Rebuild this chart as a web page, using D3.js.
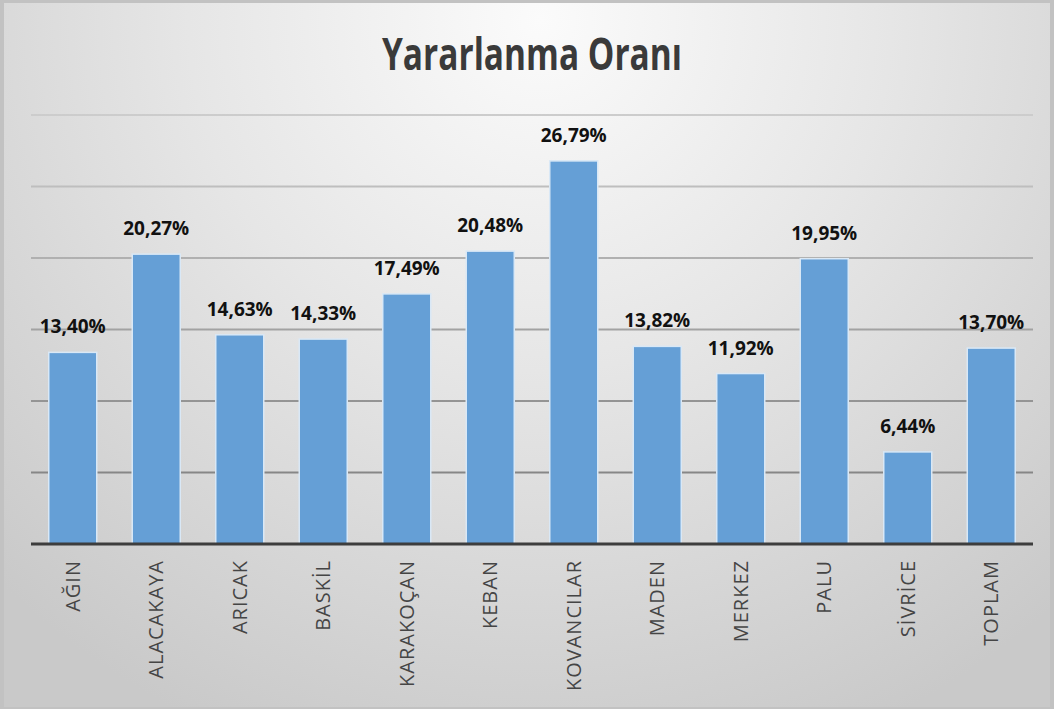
<!DOCTYPE html>
<html>
<head>
<meta charset="utf-8">
<script src="https://cdn.jsdelivr.net/npm/d3@7"></script>
<style>
body { margin: 0; background: #ffffff; }
</style>
</head>
<body>
<div id="chart"></div>
<script>
// ilçeler ve yararlanma oranları (%)
const ilceler = ["AĞIN", "ALACAKAYA", "ARICAK", "BASKİL", "KARAKOÇAN", "KEBAN",
  "KOVANCILAR", "MADEN", "MERKEZ", "PALU", "SİVRİCE", "TOPLAM"];
const oranlar = [13.40, 20.27, 14.63, 14.33, 17.49, 20.48, 26.79, 13.82, 11.92, 19.95, 6.44, 13.70];
const yTicks = [5, 10, 15, 20, 25, 30];
const baslik = "Yararlanma Oranı";

const width = 1054,
height = 709,
margin = { top: 115, bottom: 165, left: 31, right: 21 };

const svg = d3.select("#chart")
.append("svg")
.attr("width", width)
.attr("height", height);

const defs = svg.append("defs");

// background gradient, light at top centre
const bg = defs.append("radialGradient")
.attr("id", "bg")
.attr("gradientUnits", "userSpaceOnUse")
.attr("cx", 540).attr("cy", 20).attr("r", 780);
bg.append("stop").attr("offset", "0%").attr("stop-color", "#fbfbfb");
bg.append("stop").attr("offset", "45%").attr("stop-color", "#e6e6e6");
bg.append("stop").attr("offset", "100%").attr("stop-color", "#c9c9c9");

// grid lines get darker further down
const gg = defs.append("linearGradient")
.attr("id", "grid")
.attr("gradientUnits", "userSpaceOnUse")
.attr("x1", 0).attr("x2", 0).attr("y1", 110).attr("y2", 480);
gg.append("stop").attr("offset", "0%").attr("stop-color", "#cdcdcd");
gg.append("stop").attr("offset", "100%").attr("stop-color", "#858585");

svg.append("rect")
.attr("width", width)
.attr("height", height)
.attr("fill", "#c2c2c2");

svg.append("rect")
.attr("x", 4)
.attr("y", 3)
.attr("width", width - 8)
.attr("height", height - 5)
.attr("fill", "url(#bg)");

const xScale = d3.scaleBand()
.domain(ilceler)
.range([margin.left, width - margin.right])
.paddingInner(0.425)
.paddingOuter(0.2125);

const yScale = d3.scaleLinear()
.domain([0, 30])
.range([height - margin.bottom, margin.top]);

// title
svg.append("text")
.text(baslik)
.attr("x", (margin.left + width - margin.right) / 2)
.attr("y", 70)
.attr("text-anchor", "middle")
.attr("textLength", 300)
.attr("lengthAdjust", "spacingAndGlyphs")
.style("font-family", "'Open Sans', sans-serif")
.style("font-weight", "bold")
.style("font-size", "44px")
.style("fill", "#3a3a3a");

// horizontal grid
svg.append("g")
.selectAll("line")
.data(yTicks)
.enter()
.append("line")
.attr("x1", margin.left)
.attr("x2", width - margin.right)
.attr("y1", d => yScale(d))
.attr("y2", d => yScale(d))
.attr("stroke", "url(#grid)")
.attr("stroke-width", 2);

// bars
svg.append("g")
.selectAll("rect")
.data(oranlar)
.enter()
.append("rect")
.attr("x", (d, i) => xScale(ilceler[i]))
.attr("y", d => yScale(d))
.attr("width", xScale.bandwidth())
.attr("height", d => yScale(0) - yScale(d))
.attr("fill", "#659fd6")
.attr("stroke", "#d9e8f6")
.attr("stroke-width", 1.5);

// value labels with comma decimals
const tr = d3.formatLocale({ decimal: ",", thousands: ".", grouping: [3], currency: ["", "₺"] });
const fmt = tr.format(".2f");

svg.append("g")
.selectAll("text")
.data(oranlar)
.enter()
.append("text")
.text(d => fmt(d) + "%")
.attr("x", (d, i) => xScale(ilceler[i]) + xScale.bandwidth() / 2)
.attr("y", d => yScale(d) - 19)
.attr("text-anchor", "middle")
.style("font-family", "'Open Sans', sans-serif")
.style("font-weight", "bold")
.style("font-size", "19px")
.style("fill", "#111111");

// x axis, no ticks, rotated labels
const xAxis = d3.axisBottom(xScale).tickSize(0).tickPadding(0);
const xg = svg.append("g")
.attr("transform", `translate(0,${yScale(0)})`)
.call(xAxis);

xg.select(".domain")
.attr("d", `M${margin.left},0H${width - margin.right}`)
.attr("stroke", "#3d3d3d")
.attr("stroke-width", 3);

xg.selectAll(".tick text")
.attr("transform", "translate(0,16) rotate(-90)")
.attr("x", 0)
.attr("y", 0)
.attr("dy", "0.35em")
.attr("text-anchor", "end")
.style("font-family", "'Open Sans', sans-serif")
.style("font-size", "20px")
.style("letter-spacing", "1px")
.style("fill", "#454545");
</script>
</body>
</html>
